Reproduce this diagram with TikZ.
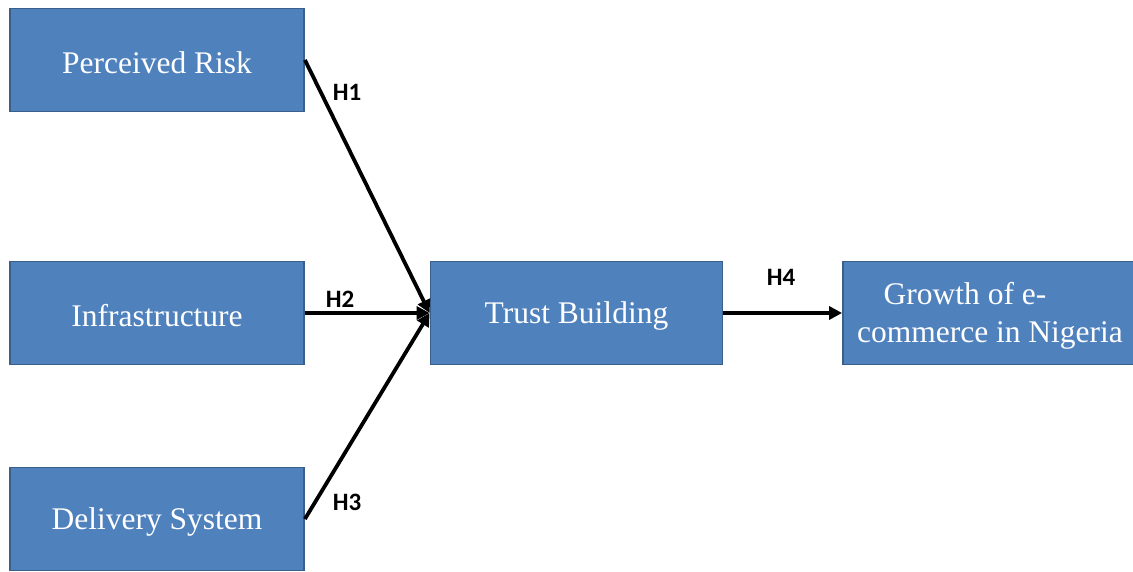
\documentclass[tikz,border=0pt]{standalone}
\usepackage{fontspec}
\setmainfont{Liberation Serif}
\newfontfamily\labelfont{Carlito}
\usetikzlibrary{arrows.meta}
\definecolor{boxfill}{HTML}{4F81BD}
\definecolor{boxline}{HTML}{3A5F8B}
\tikzset{
  varbox/.style={draw=boxline, line width=1.8pt, fill=boxfill,
    minimum width=294pt, minimum height=103pt, inner sep=0pt},
  boxtext/.style={label={[text=white, font=\fontsize{31.5}{38}\selectfont,
    align=center, inner sep=0pt, yshift=-2.5pt]center:{#1}}},
  link/.style={line width=3.8pt, -{Triangle[length=13pt,width=13pt]}},
  hlabel/.style={font=\labelfont\bfseries\fontsize{25}{28}\selectfont, inner sep=0pt}
}
\begin{document}
\begin{tikzpicture}[x=1pt,y=1pt]
\useasboundingbox (0,0) rectangle (1133,571);
\begin{scope}
\clip (0,0) rectangle (1133,571);
\node[varbox, boxtext={Perceived Risk}] (pr) at (157,511) {};
\node[varbox, boxtext={Infrastructure}] (inf) at (157,258) {};
\node[varbox, boxtext={Delivery System}] (ds) at (157,52) {};
\node[varbox, minimum width=292pt, boxtext={Trust Building}] (tb) at (576.5,258) {};
\node[varbox, boxtext={Growth of e-\hspace*{50pt}\\commerce in Nigeria}] (gr) at (990,258) {};
\end{scope}
\draw[link] (pr.east) -- (tb.west);
\draw[link] (inf.east) -- (tb.west);
\draw[link] (ds.east) -- (tb.west);
\draw[link] (tb.east) -- (gr.west);
\node[hlabel] (h1) at (347,479) {H1};
\node[hlabel] (h2) at (340,272) {H2};
\node[hlabel] (h3) at (347,69) {H3};
\node[hlabel] (h4) at (781,294) {H4};
\end{tikzpicture}
\end{document}
